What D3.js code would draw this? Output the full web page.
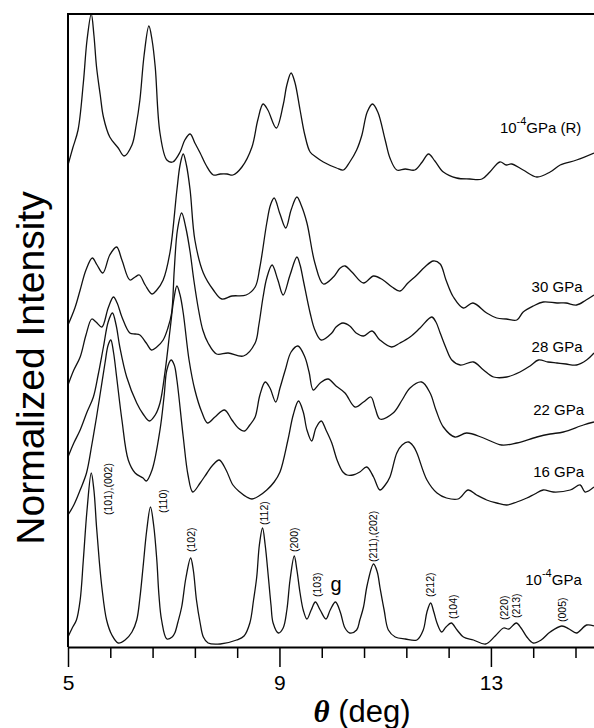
<!DOCTYPE html>
<html>
<head>
<meta charset="utf-8">
<script src="https://cdn.jsdelivr.net/npm/d3@7"></script>
<style>
  body { margin: 0; background: #fff; }
  svg { display: block; }
</style>
</head>
<body>
<div id="viz"></div>
<script>
// Diffraction patterns, theta (deg) vs normalized intensity (arb. units, offsets included)
const releasedR = [[5.00,484],[5.09,501],[5.19,519],[5.29,566],[5.36,609],[5.44,635],[5.49,614],[5.54,582],[5.61,554],[5.67,532],[5.79,512],[5.95,501],[6.06,493],[6.21,504],[6.29,524],[6.36,549],[6.44,594],[6.53,623],[6.59,609],[6.65,582],[6.74,516],[6.87,489],[6.98,487],[7.12,497],[7.21,509],[7.31,515],[7.40,506],[7.50,496],[7.61,484],[7.75,474],[7.88,475],[8.01,475],[8.12,474],[8.29,482],[8.48,502],[8.59,529],[8.69,545],[8.78,539],[8.94,521],[9.07,544],[9.14,564],[9.22,576],[9.29,567],[9.39,539],[9.48,514],[9.58,497],[9.69,492],[9.83,487],[10.08,481],[10.21,479],[10.33,487],[10.46,499],[10.56,514],[10.66,537],[10.76,545],[10.86,537],[11.00,509],[11.09,491],[11.22,479],[11.38,480],[11.56,479],[11.70,487],[11.82,495],[11.94,488],[12.10,477],[12.35,471],[12.60,470],[12.83,470],[12.98,477],[13.17,487],[13.29,484],[13.39,485],[13.61,479],[13.87,472],[14.12,477],[14.31,484],[14.62,489],[14.95,496]];

const gpa30 = [[5.00,324],[5.13,341],[5.23,359],[5.34,379],[5.46,391],[5.55,384],[5.66,376],[5.79,394],[5.92,402],[6.02,389],[6.17,369],[6.27,372],[6.35,374],[6.46,364],[6.59,355],[6.68,359],[6.80,369],[6.93,397],[7.06,459],[7.12,484],[7.18,495],[7.24,484],[7.31,459],[7.40,409],[7.56,376],[7.75,359],[7.91,350],[8.10,353],[8.37,354],[8.54,362],[8.63,382],[8.76,426],[8.83,444],[8.90,451],[9.01,435],[9.12,421],[9.22,439],[9.33,452],[9.41,444],[9.52,426],[9.67,386],[9.83,365],[10.02,372],[10.15,381],[10.24,383],[10.37,377],[10.59,366],[10.78,373],[10.96,369],[11.13,362],[11.28,358],[11.43,366],[11.60,374],[11.75,382],[11.91,388],[12.04,385],[12.15,369],[12.29,352],[12.48,341],[12.66,346],[12.92,336],[13.11,331],[13.29,330],[13.49,329],[13.61,337],[13.80,343],[13.99,347],[14.25,346],[14.42,346],[14.62,344],[14.80,349],[14.95,354]];

const gpa28 = [[5.00,264],[5.11,279],[5.23,292],[5.34,314],[5.45,330],[5.53,327],[5.64,322],[5.76,341],[5.86,352],[5.93,346],[6.02,332],[6.17,316],[6.27,315],[6.36,314],[6.48,306],[6.58,299],[6.68,302],[6.80,309],[6.89,321],[6.96,336],[7.01,379],[7.07,419],[7.15,436],[7.23,421],[7.31,397],[7.38,369],[7.47,339],[7.55,319],[7.65,306],[7.81,295],[8.03,296],[8.32,293],[8.54,306],[8.61,324],[8.69,352],[8.76,371],[8.86,384],[8.97,369],[9.07,354],[9.20,374],[9.33,392],[9.39,384],[9.45,369],[9.58,336],[9.67,319],[9.79,309],[9.99,316],[10.07,322],[10.20,326],[10.33,323],[10.45,316],[10.59,313],[10.75,318],[10.90,309],[11.12,302],[11.28,306],[11.47,312],[11.66,321],[11.88,332],[11.96,327],[12.04,316],[12.15,301],[12.26,289],[12.42,284],[12.67,287],[12.86,279],[13.05,272],[13.30,272],[13.55,277],[13.74,283],[13.90,289],[14.08,287],[14.25,286],[14.42,285],[14.62,284],[14.81,289],[14.95,296]];

const gpa22 = [[5.00,192],[5.11,206],[5.23,219],[5.36,237],[5.48,252],[5.57,274],[5.67,302],[5.76,327],[5.84,336],[5.91,324],[5.98,302],[6.11,272],[6.30,246],[6.42,235],[6.54,228],[6.65,234],[6.74,246],[6.84,279],[6.93,319],[7.00,349],[7.06,363],[7.12,354],[7.18,336],[7.29,289],[7.40,259],[7.53,237],[7.64,226],[7.78,232],[7.96,239],[8.10,229],[8.22,221],[8.34,218],[8.44,224],[8.54,232],[8.63,254],[8.73,267],[8.82,261],[8.93,247],[9.01,261],[9.11,279],[9.22,297],[9.35,303],[9.48,292],[9.56,277],[9.64,259],[9.77,266],[9.92,270],[10.07,263],[10.24,256],[10.43,242],[10.59,247],[10.73,252],[10.81,241],[10.90,230],[11.15,236],[11.32,249],[11.47,261],[11.69,267],[11.85,256],[11.96,239],[12.10,222],[12.32,212],[12.54,216],[12.86,211],[13.20,204],[13.49,206],[13.87,212],[14.12,215],[14.37,217],[14.75,224],[14.95,227]];

const gpa16 = [[5.00,134],[5.11,144],[5.23,159],[5.35,176],[5.45,204],[5.54,232],[5.62,259],[5.70,286],[5.76,304],[5.81,309],[5.86,297],[5.92,272],[6.02,229],[6.14,189],[6.27,176],[6.42,171],[6.48,168],[6.59,179],[6.74,219],[6.82,254],[6.87,279],[6.95,289],[7.01,284],[7.06,269],[7.18,212],[7.27,174],[7.36,157],[7.50,166],[7.63,176],[7.74,184],[7.86,189],[7.99,179],[8.12,164],[8.25,157],[8.38,152],[8.48,150],[8.61,153],[8.76,159],[8.90,167],[9.01,177],[9.16,209],[9.26,234],[9.36,248],[9.45,237],[9.52,219],[9.61,208],[9.69,221],[9.79,228],[9.88,219],[9.99,206],[10.09,189],[10.20,177],[10.28,174],[10.39,174],[10.52,177],[10.65,182],[10.78,172],[10.90,159],[11.00,164],[11.09,172],[11.22,196],[11.32,204],[11.44,207],[11.53,203],[11.60,196],[11.79,169],[11.98,156],[12.16,151],[12.38,150],[12.57,159],[12.73,154],[12.92,149],[13.11,146],[13.30,144],[13.49,147],[13.68,151],[13.83,155],[13.99,159],[14.18,157],[14.50,159],[14.69,164],[14.78,157],[14.95,162]];

const ambient = [[5.00,12],[5.08,21],[5.16,29],[5.23,49],[5.29,89],[5.36,139],[5.44,176],[5.49,159],[5.54,122],[5.59,89],[5.64,62],[5.73,29],[5.83,14],[5.95,6],[6.08,9],[6.21,17],[6.30,29],[6.36,51],[6.42,82],[6.49,119],[6.56,142],[6.62,124],[6.68,89],[6.72,54],[6.77,29],[6.87,10],[6.97,12],[7.02,16],[7.08,27],[7.15,42],[7.23,71],[7.32,91],[7.37,79],[7.43,49],[7.50,26],[7.56,12],[7.65,6],[7.88,5],[8.19,9],[8.33,13],[8.44,26],[8.51,49],[8.57,72],[8.62,104],[8.68,121],[8.73,104],[8.79,72],[8.84,44],[8.88,26],[8.98,16],[9.07,21],[9.14,39],[9.20,69],[9.28,93],[9.33,79],[9.39,56],[9.45,39],[9.52,30],[9.60,39],[9.68,47],[9.77,39],[9.88,30],[9.96,39],[10.06,47],[10.15,37],[10.24,21],[10.33,16],[10.46,19],[10.52,29],[10.59,42],[10.66,64],[10.78,85],[10.85,77],[10.90,62],[10.98,39],[11.06,19],[11.19,12],[11.38,10],[11.60,9],[11.72,19],[11.79,37],[11.86,46],[11.92,37],[11.98,26],[12.07,17],[12.15,22],[12.25,26],[12.36,19],[12.48,12],[12.67,9],[12.90,5],[13.08,13],[13.24,21],[13.34,20],[13.48,26],[13.57,21],[13.68,12],[13.80,6],[13.95,9],[14.12,17],[14.34,23],[14.48,20],[14.62,16],[14.81,24],[14.95,23]];

const patterns = [releasedR, gpa30, gpa28, gpa22, gpa16, ambient];

// Curve names, written next to each pattern (^ marks a superscript)
const curveNames = ['10^-4GPa (R)', '30 GPa', '28 GPa', '22 GPa', '16 GPa', '10^-4GPa'];
const nameTheta = [13.17, 13.77, 13.77, 13.80, 13.80, 13.65];
const nameLevel = [516, 357, 297, 234, 172, 64];

// Miller indices of the ambient pattern
const hklLabels = ['(101),(002)', '(110)', '(102)', '(112)', '(200)', '(103)', '(211),(202)', '(212)', '(104)', '(220)', '(213)', '(005)'];
const hklTheta = [5.76, 6.80, 7.34, 8.71, 9.28, 9.72, 10.78, 11.86, 12.28, 13.25, 13.48, 14.36];
const hklLevel = [134, 136, 97, 124, 97, 52, 87, 52, 30, 29, 31, 27];
const gasketTheta = 10.07;
const gasketLevel = 58;

const majorTicks = [5, 9, 13];
const minorTicks = [5.8, 6.6, 7.4, 8.2, 9.8, 10.6, 11.4, 12.2, 13.8, 14.6];

const width = 594;
const height = 728;
const margin = {top: 14, right: 0, bottom: 81, left: 68};
const sans = 'Liberation Sans, Arial, Helvetica, sans-serif';

const svg = d3.select('#viz')
  .append('svg')
    .attr('width', width)
    .attr('height', height)
    .attr('viewBox', `0 0 ${width} ${height}`)
    .style('font-family', sans);

const xScale = d3.scaleLinear()
  .domain([5, 14.95])
  .range([margin.left, width - margin.right]);
const yScale = d3.scaleLinear()
  .domain([2, 635])
  .range([height - margin.bottom, margin.top]);

// Curves
const line = d3.line()
  .x(d => xScale(d[0]))
  .y(d => yScale(d[1]))
  .curve(d3.curveCatmullRom.alpha(0.5));

svg
  .append('g')
    .attr('class', 'patterns')
  .selectAll('path')
  .data(patterns)
  .join('path')
    .attr('d', line)
    .attr('fill', 'none')
    .attr('stroke', '#111')
    .attr('stroke-width', 1.3)
    .attr('stroke-linejoin', 'round');

// Frame: left and top
svg
  .append('path')
    .attr('d', `M${xScale(5)},${yScale(2)}V${margin.top}H${width + 2}`)
    .attr('fill', 'none')
    .attr('stroke', '#000')
    .attr('stroke-width', 2);

// x axis
const xAxis = d3.axisBottom(xScale)
  .tickValues(majorTicks)
  .tickSize(20)
  .tickSizeOuter(0)
  .tickPadding(8)
  .tickFormat(d3.format('d'));
const xAxisGroup = svg
  .append('g')
    .attr('class', 'x-axis-group')
    .attr('transform', `translate(0, ${yScale(2)})`)
    .style('font-size', '21px')
    .style('font-family', sans)
  .call(xAxis);
xAxisGroup.select('.domain')
  .attr('stroke-width', 2);
xAxisGroup.selectAll('.tick line')
  .attr('stroke-width', 1.5);
xAxisGroup.selectAll('.tick text')
  .attr('fill', '#000');

const minorAxis = d3.axisBottom(xScale)
  .tickValues(minorTicks)
  .tickSize(11)
  .tickFormat('');
svg
  .append('g')
    .attr('class', 'x-minor-group')
    .attr('transform', `translate(0, ${yScale(2)})`)
  .call(minorAxis)
  .call(g => g.select('.domain').remove())
  .selectAll('.tick line')
    .attr('stroke-width', 1.5);

// Axis titles
const xTitle = svg
  .append('text')
    .attr('x', 362)
    .attr('y', 722)
    .attr('text-anchor', 'middle')
    .attr('fill', '#000')
    .style('font-size', '31px');
xTitle.append('tspan')
  .style('font-family', 'Liberation Serif, Times New Roman, serif')
  .style('font-weight', 700)
  .style('font-style', 'italic')
  .text('θ');
xTitle.append('tspan')
  .text(' (deg)');

svg
  .append('text')
    .attr('transform', `translate(44, 368) rotate(-90)`)
    .attr('text-anchor', 'middle')
    .attr('fill', '#000')
    .style('font-size', '39px')
    .text('Normalized Intensity');

// Pressure labels
const names = svg
  .append('g')
    .attr('class', 'curve-names')
    .style('font-size', '15px')
  .selectAll('text')
  .data(curveNames)
  .join('text')
    .attr('x', (d, i) => xScale(nameTheta[i]))
    .attr('y', (d, i) => yScale(nameLevel[i]))
    .attr('fill', '#000');
names.each(function(d) {
  const t = d3.select(this);
  const parts = d.split(/\^(-?\d+)/);
  if (parts.length === 1) {
    t.text(d);
    return;
  }
  t.append('tspan').text(parts[0]);
  t.append('tspan').attr('dy', -8).style('font-size', '11px').text(parts[1]);
  t.append('tspan').attr('dy', 8).text(parts[2]);
});

// hkl labels, rotated
svg
  .append('g')
    .attr('class', 'hkl')
    .style('font-size', '10.5px')
  .selectAll('text')
  .data(hklLabels)
  .join('text')
    .attr('transform', (d, i) => `translate(${xScale(hklTheta[i])}, ${yScale(hklLevel[i])}) rotate(-90)`)
    .attr('dy', '0.35em')
    .attr('fill', '#000')
    .text(d => d);

svg
  .append('text')
    .attr('x', xScale(gasketTheta))
    .attr('y', yScale(gasketLevel))
    .attr('text-anchor', 'middle')
    .attr('fill', '#000')
    .style('font-size', '20px')
    .text('g');
</script>
</body>
</html>
